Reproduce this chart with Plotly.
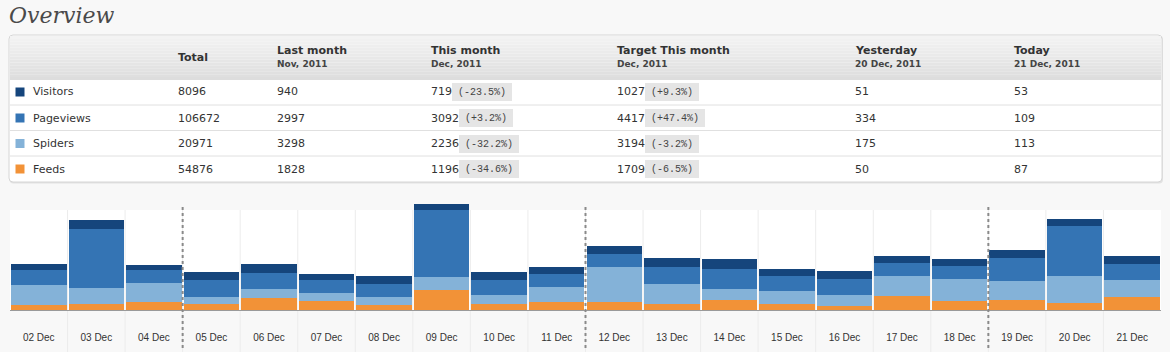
import plotly.graph_objects as go

# ---------------- data ----------------
days = ["02 Dec", "03 Dec", "04 Dec", "05 Dec", "06 Dec", "07 Dec", "08 Dec", "09 Dec",
        "10 Dec", "11 Dec", "12 Dec", "13 Dec", "14 Dec", "15 Dec", "16 Dec", "17 Dec",
        "18 Dec", "19 Dec", "20 Dec", "21 Dec"]
visitors = [40, 60, 33, 53, 60, 40, 53, 40, 53, 47, 53, 60, 67, 47, 53, 47, 47, 53, 51, 53]
pageviews = [100, 393, 87, 113, 107, 87, 87, 447, 100, 87, 87, 113, 133, 100, 107, 87, 87, 153, 334, 109]
spiders = [135, 107, 125, 47, 60, 53, 53, 87, 60, 100, 233, 133, 73, 87, 73, 133, 147, 127, 175, 113]
feeds = [31, 40, 55, 40, 80, 60, 33, 133, 40, 53, 53, 40, 67, 40, 27, 93, 60, 67, 50, 87]
week_starts = ["05 Dec", "12 Dec", "19 Dec"]

row_names = ["Visitors", "Pageviews", "Spiders", "Feeds"]
total = [8096, 106672, 20971, 54876]
last_month = [940, 2997, 3298, 1828]
this_month = [719, 3092, 2236, 1196]
this_month_change = ["(-23.5%)", "(+3.2%)", "(-32.2%)", "(-34.6%)"]
target_month = [1027, 4417, 3194, 1709]
target_change = ["(+9.3%)", "(+47.4%)", "(-3.2%)", "(-6.5%)"]
yesterday = [51, 334, 175, 50]
today = [53, 109, 113, 87]

col_titles = ["Total", "Last month", "This month", "Target This month", "Yesterday", "Today"]
col_subtitles = ["", "Nov, 2011", "Dec, 2011", "Dec, 2011", "20 Dec, 2011", "21 Dec, 2011"]

colors = {"Visitors": "#15457c", "Pageviews": "#3474b4", "Spiders": "#84b2d8", "Feeds": "#f29237"}

# ---------------- geometry helpers ----------------
W, H = 1170, 352
ML, MR, MT, MB = 10, 9, 200, 42
PW, PH = W - ML - MR, H - MT - MB


def X(px):
    return (px - ML) / PW


def Y(py):
    return (H - MB - py) / PH


BG = "#f8f8f8"
fig = go.Figure()

for name, vals in [("Feeds", feeds), ("Spiders", spiders), ("Pageviews", pageviews), ("Visitors", visitors)]:
    fig.add_trace(go.Bar(x=days, y=vals, name=name, marker=dict(color=colors[name], line=dict(width=0)),
                         hoverinfo="x+y+name"))

shapes = []
annotations = []

# white plot columns + separators
shapes.append(dict(type="rect", xref="paper", yref="paper", x0=0, x1=1, y0=0, y1=Y(210),
                   fillcolor="white", line=dict(width=0), layer="below"))
for i in range(len(days) - 1):
    shapes.append(dict(type="line", xref="x", yref="paper", x0=i + 0.5, x1=i + 0.5, y0=Y(352), y1=Y(210),
                       line=dict(color="#ececec", width=1), layer="below"))
# week separators
for d in week_starts:
    k = days.index(d) - 0.5
    shapes.append(dict(type="line", xref="x", yref="paper", x0=k, x1=k, y0=Y(348), y1=Y(204),
                       line=dict(color="#8a8a8a", width=2, dash="dot"), layer="above"))


def rrect(x0, y0, x1, y1, r):
    p = (f"M {X(x0+r)},{Y(y0)} L {X(x1-r)},{Y(y0)} Q {X(x1)},{Y(y0)} {X(x1)},{Y(y0+r)} "
         f"L {X(x1)},{Y(y1-r)} Q {X(x1)},{Y(y1)} {X(x1-r)},{Y(y1)} "
         f"L {X(x0+r)},{Y(y1)} Q {X(x0)},{Y(y1)} {X(x0)},{Y(y1-r)} "
         f"L {X(x0)},{Y(y0+r)} Q {X(x0)},{Y(y0)} {X(x0+r)},{Y(y0)} Z")
    return p


# table box with shadow
shapes.append(dict(type="path", xref="paper", yref="paper", path=rrect(9.5, 35.5, 1163, 183.5, 4),
                   fillcolor="#e2e2e2", line=dict(width=0)))
shapes.append(dict(type="path", xref="paper", yref="paper", path=rrect(9, 35, 1162, 182, 4),
                   fillcolor="white", line=dict(color="#d6d6d6", width=1)))
# header gradient
n_b = 15
top_c, bot_c = (0xf3, 0xf3, 0xf3), (0xdd, 0xdd, 0xdd)
for b in range(n_b):
    t = b / (n_b - 1)
    c = tuple(int(round(top_c[k] + (bot_c[k] - top_c[k]) * t)) for k in range(3))
    y0 = 36 + (80 - 36) * b / n_b
    y1 = 36 + (80 - 36) * (b + 1) / n_b
    shapes.append(dict(type="rect", xref="paper", yref="paper", x0=X(10), x1=X(1161), y0=Y(y1), y1=Y(y0),
                       fillcolor="rgb(%d,%d,%d)" % c, line=dict(width=0)))
# row separators
for yy in [105, 130.5, 156]:
    shapes.append(dict(type="line", xref="paper", yref="paper", x0=X(10), x1=X(1161), y0=Y(yy), y1=Y(yy),
                       line=dict(color="#e0e0e0", width=1)))

# title
annotations.append(dict(text="Overview", xref="paper", yref="paper", x=X(7), y=Y(15), xanchor="left",
                        yanchor="middle", showarrow=False,
                        font=dict(family="DejaVu Serif", size=22, color="#4a4a4a", style="italic")))

col_x = [176, 275, 429, 615, 853, 1012]
for cx, t, s in zip(col_x, col_titles, col_subtitles):
    if s:
        annotations.append(dict(text=t, xref="paper", yref="paper", x=X(cx), y=Y(50), xanchor="left",
                                yanchor="middle", showarrow=False,
                                font=dict(family="DejaVu Sans", size=11, color="#333333", weight="bold")))
        annotations.append(dict(text=s, xref="paper", yref="paper", x=X(cx), y=Y(64), xanchor="left",
                                yanchor="middle", showarrow=False,
                                font=dict(family="DejaVu Sans", size=9, color="#444444", weight="bold")))
    else:
        annotations.append(dict(text=t, xref="paper", yref="paper", x=X(cx), y=Y(57), xanchor="left",
                                yanchor="middle", showarrow=False,
                                font=dict(family="DejaVu Sans", size=11, color="#333333", weight="bold")))

row_y = [92, 118, 143.5, 169]
body_font = dict(family="DejaVu Sans", size=11, color="#333333")
pill_font = dict(family="Liberation Mono", size=10, color="#444444")
for i, name in enumerate(row_names):
    ry = row_y[i]
    shapes.append(dict(type="rect", xref="paper", yref="paper", x0=X(15.5), x1=X(24.5), y0=Y(ry + 4.5),
                       y1=Y(ry - 4.5), fillcolor=colors[name], line=dict(width=0)))
    annotations.append(dict(text=name, xref="paper", yref="paper", x=X(31), y=Y(ry), xanchor="left",
                            yanchor="middle", showarrow=False, font=body_font))
    cells = [total[i], last_month[i], this_month[i], target_month[i], yesterday[i], today[i]]
    for cx, v in zip(col_x, cells):
        annotations.append(dict(text=str(v), xref="paper", yref="paper", x=X(cx), y=Y(ry), xanchor="left",
                                yanchor="middle", showarrow=False, font=body_font))
    for cx, v, ch in [(col_x[2], this_month[i], this_month_change[i]),
                      (col_x[3], target_month[i], target_change[i])]:
        left = cx + 7 * len(str(v)) + 2
        annotations.append(dict(text=ch, xref="paper", yref="paper", x=X(left), y=Y(ry), xanchor="left",
                                yanchor="middle", showarrow=False, font=pill_font, bgcolor="#e5e5e5",
                                borderpad=3, borderwidth=0, width=6 * len(ch) + 6, height=12,
                                align="center"))

fig.update_layout(
    width=W, height=H, margin=dict(l=ML, r=MR, t=MT, b=MB),
    paper_bgcolor=BG, plot_bgcolor="rgba(0,0,0,0)",
    barmode="stack", bargap=0.035, showlegend=False,
    shapes=shapes, annotations=annotations,
    xaxis=dict(type="category", showgrid=False, zeroline=False, showline=True, linecolor="#9a9a9a",
               linewidth=1, ticks="", ticklabelstandoff=18, range=[-0.5, len(days) - 0.5],
               tickfont=dict(family="Liberation Sans", size=10, color="#333333"), fixedrange=True),
    yaxis=dict(range=[0, 735], showgrid=False, zeroline=False, showticklabels=False, fixedrange=True),
)

fig.write_html("out.html")
